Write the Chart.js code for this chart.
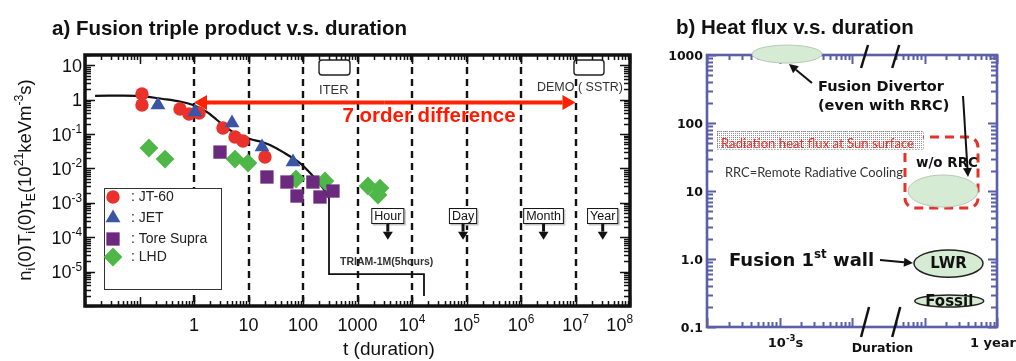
<!DOCTYPE html>
<html>
<head>
<meta charset="utf-8">
<script src="https://cdn.jsdelivr.net/npm/chart.js@4.4.1/dist/chart.umd.min.js"></script>
<style>
  html, body { margin: 0; padding: 0; background: #fff; }
  #wrap { position: relative; width: 1016px; height: 361px; overflow: hidden; }
  canvas { position: absolute; top: 0; }
  #chartA { left: 0; }
  #chartB { left: 640px; }
</style>
</head>
<body>
<div id="wrap">
  <canvas id="chartA" width="660" height="361"></canvas>
  <canvas id="chartB" width="376" height="361"></canvas>
</div>
<script>
// ---------- a) triple product vs duration ----------
const curveT = [0.0153, 0.094, 0.27, 0.553, 0.96, 1.73, 2.64, 4.03, 6.15, 10.7, 17.7, 24.8, 43, 88, 146, 233, 300];
const curveP = [1.3, 1.3, 1.05, 0.887, 0.701, 0.439, 0.257, 0.150, 0.100, 0.072, 0.059, 0.048, 0.030, 0.0144, 0.0065, 0.0027, 0.0014];
const triamT = [300, 300, 16600, 16600];
const triamP = [0.0014, 8.5e-6, 8.5e-6, 1.95e-6];

const jt60T = [0.111, 0.111, 0.553, 0.81, 1.24, 3.4, 5.65, 7.93, 20.1];
const jt60P = [1.47, 0.70, 0.537, 0.384, 0.41, 0.150, 0.082, 0.063, 0.0215];
const jetT = [0.218, 1.04, 4.98, 17.7, 65.6];
const jetP = [0.70, 0.44, 0.21, 0.042, 0.0154];
const toreT = [3.0, 21.8, 50.8, 77.6, 152, 205, 355];
const toreP = [0.030, 0.00565, 0.00404, 0.00158, 0.00404, 0.00148, 0.00221];
const lhdT = [0.149, 0.294, 5.65, 9.8, 74.4, 253, 1560, 2590, 2380];
const lhdP = [0.0394, 0.0188, 0.0188, 0.0144, 0.00494, 0.00432, 0.00309, 0.0027, 0.00169];

const seriesNames = ["JT-60", "JET", "Tore Supra", "LHD"];
const milestoneNames = ["Hour", "Day", "Month", "Year"];
const milestoneT = [3600, 86400, 2.592e6, 3.156e7];
const dashedDecades = [1, 10, 100, 1000, 1e4, 1e5, 1e6, 1e7];

const aXTicks = [1, 10, 100, 1000, 1e4, 1e5, 1e6, 1e7, 1e8];
const aXTickLabels = ["1", "10", "100", "1000", "10^{4}", "10^{5}", "10^{6}", "10^{7}", "10^{8}"];
const aYTicks = [10, 1, 0.1, 0.01, 1e-3, 1e-4, 1e-5];
const aYTickLabels = ["10", "1", "10^{-1}", "10^{-2}", "10^{-3}", "10^{-4}", "10^{-5}"];

// ---------- b) heat flux vs duration ----------
const bYTicks = [1000, 100, 10, 1, 0.1];
const bYTickLabels = ["1000", "100", "10", "1.0", "0.1"];
const bXLabels = ["10^{-3}s", "1 year"];
const bXLabelAt = [1e-3, 1];
// green regions: duration range and heat-flux range
const regionNames = ["Divertor", "w/o RRC", "LWR", "Fossil"];
const regionT0 = [4.18e-4, 0.0592, 0.0716, 0.0734];
const regionT1 = [3.85e-3, 0.547, 0.641, 0.656];
const regionQ0 = [760, 5.8, 0.54, 0.197];
const regionQ1 = [1400, 17.2, 1.36, 0.296];

const SANS = '"Liberation Sans", Arial, sans-serif';
const VERD = '"DejaVu Sans", Verdana, sans-serif';
const COLORS = { jt60: "#e8322b", jet: "#3b55a5", tore: "#6b2a7e", lhd: "#4fb748" };

function parseRich(s) {
  const out = [];
  const re = /(\^|_)\{([^}]*)\}|([^^_]+)/g;
  let m;
  while ((m = re.exec(s))) {
    if (m[3]) out.push([m[3], 0]);
    else out.push([m[2], m[1] === "^" ? 1 : -1]);
  }
  return out;
}

function richWidth(ctx, parts, size, fam, wt) {
  let w = 0;
  for (const [t, mode] of parts) {
    ctx.font = `${wt} ${mode ? size * 0.66 : size}px ${fam}`;
    w += ctx.measureText(t).width;
  }
  return w;
}

function drawRich(ctx, s, x, y, size, fam, wt, align) {
  const parts = parseRich(s);
  const w = richWidth(ctx, parts, size, fam, wt);
  let cx = align === "center" ? x - w / 2 : align === "right" ? x - w : x;
  ctx.textAlign = "left";
  ctx.textBaseline = "alphabetic";
  for (const [t, mode] of parts) {
    ctx.font = `${wt} ${mode ? size * 0.66 : size}px ${fam}`;
    const dy = mode === 1 ? -size * 0.42 : mode === -1 ? size * 0.22 : 0;
    ctx.fillText(t, cx, y + dy);
    cx += ctx.measureText(t).width;
  }
}

function logTicks(min, max) {
  const out = [];
  for (let d = Math.floor(Math.log10(min)); d <= Math.ceil(Math.log10(max)); d++) {
    for (let j = 1; j < 10; j++) {
      const v = j * Math.pow(10, d);
      if (v >= min * 0.999 && v <= max * 1.001) out.push({ v, major: j === 1 });
    }
  }
  return out;
}

function arrowLine(ctx, x0, y0, x1, y1, head, half) {
  const ang = Math.atan2(y1 - y0, x1 - x0);
  const bx = x1 - Math.cos(ang) * head, by = y1 - Math.sin(ang) * head;
  ctx.beginPath(); ctx.moveTo(x0, y0); ctx.lineTo(bx, by); ctx.stroke();
  ctx.beginPath(); ctx.moveTo(x1, y1);
  ctx.lineTo(bx + Math.sin(ang) * half, by - Math.cos(ang) * half);
  ctx.lineTo(bx - Math.sin(ang) * half, by + Math.cos(ang) * half);
  ctx.closePath(); ctx.fill();
}

const pts = (T, P) => T.map((t, i) => ({ x: t, y: P[i] }));
const markers = (label, T, P, style, color, r) => ({
  label, data: pts(T, P), showLine: false,
  pointStyle: style, pointRadius: r, pointBackgroundColor: color, pointBorderWidth: 0
});

const markerStyle = [["circle", 6.7, COLORS.jt60], ["triangle", 8.6, COLORS.jet], ["rect", 9.4, COLORS.tore], ["rectRot", 9.4, COLORS.lhd]];

const panelA = {
  id: "panelA",
  beforeDatasetsDraw(chart) {
    const { ctx, chartArea: a, scales: { x } } = chart;
    ctx.save();
    ctx.strokeStyle = "#111"; ctx.lineWidth = 2.4; ctx.setLineDash([7, 5]);
    for (const t of dashedDecades) {
      const px = Math.round(x.getPixelForValue(t));
      ctx.beginPath(); ctx.moveTo(px, a.top); ctx.lineTo(px, a.bottom); ctx.stroke();
    }
    ctx.restore();
  },
  afterDatasetsDraw(chart) {
    const { ctx, chartArea: a, scales: { x, y } } = chart;
    const X = e => x.getPixelForValue(Math.pow(10, e));
    const Y = f => y.getPixelForValue(Math.pow(10, f));
    ctx.save();

    // ITER / DEMO boxes
    ctx.strokeStyle = "#222"; ctx.lineWidth = 1.4; ctx.fillStyle = "#fff";
    for (const [e0, e1] of [[2.294, 2.862], [6.972, 7.523]]) {
      ctx.beginPath();
      ctx.roundRect(X(e0), Y(1.155), X(e1) - X(e0), Y(0.718) - Y(1.155), 3);
      ctx.fill(); ctx.stroke();
    }
    ctx.fillStyle = "#333"; ctx.font = `13px ${SANS}`; ctx.textBaseline = "middle"; ctx.textAlign = "left";
    ctx.fillText("ITER", X(2.294), Y(0.282));
    ctx.fillText("DEMO ( SSTR)", X(6.294), Y(0.369), 86);

    // 7 order difference arrow
    ctx.strokeStyle = "#ff2200"; ctx.fillStyle = "#ff2200"; ctx.lineWidth = 4;
    const ay = Y(-0.081), xm = (X(0) + X(7)) / 2;
    arrowLine(ctx, xm, ay, X(0), ay, 13, 7.5);
    arrowLine(ctx, xm, ay, X(7), ay, 13, 7.5);
    ctx.font = `bold 20.5px ${SANS}`; ctx.textAlign = "center"; ctx.textBaseline = "middle";
    ctx.fillStyle = "#ff1a00";
    ctx.fillText("7 order difference", X(4.312), Y(-0.474), 176);

    // milestone boxes
    milestoneNames.forEach((name, i) => {
      const cx = x.getPixelForValue(milestoneT[i]), cy = Y(-3.383), tip = Y(-4.07);
      ctx.font = `12.5px ${SANS}`;
      const w = ctx.measureText(name).width + 6, h = 16;
      ctx.fillStyle = "#c8c8c8"; ctx.fillRect(cx - w / 2 + 1.5, cy - h / 2 + 1.5, w, h);
      ctx.fillStyle = "#fff"; ctx.fillRect(cx - w / 2, cy - h / 2, w, h);
      ctx.strokeStyle = "#111"; ctx.lineWidth = 1;
      ctx.strokeRect(cx - w / 2 + 0.5, cy - h / 2 + 0.5, w - 1, h - 1);
      ctx.fillStyle = "#111"; ctx.textAlign = "center"; ctx.textBaseline = "middle";
      ctx.fillText(name, cx, cy + 0.5);
      ctx.lineWidth = 3;
      arrowLine(ctx, cx, cy + h / 2, cx, tip, 8, 5);
    });

    // TRIAM label
    ctx.fillStyle = "#333"; ctx.font = `bold 10.5px ${SANS}`; ctx.textAlign = "left"; ctx.textBaseline = "middle";
    ctx.fillText("TRIAM-1M(5hours)", X(2.679), Y(-4.72), 94);

    // legend
    const lx = a.left + 19, ly = 188, lw = 117, lh = 101;
    ctx.fillStyle = "#fff"; ctx.fillRect(lx, ly, lw, lh);
    ctx.strokeStyle = "#333"; ctx.lineWidth = 1; ctx.strokeRect(lx + 0.5, ly + 0.5, lw, lh);
    const rows = [197, 218, 239, 257];
    seriesNames.forEach((n, i) => {
      const [style, r, col] = markerStyle[i];
      ctx.fillStyle = col;
      Chart.helpers.drawPoint(ctx, { pointStyle: style, radius: r, rotation: 0, borderWidth: 0 }, lx + 9, rows[i]);
      ctx.fillStyle = "#222"; ctx.font = `14px ${SANS}`; ctx.textAlign = "left"; ctx.textBaseline = "middle";
      ctx.fillText(": " + n, lx + 27, rows[i]);
    });

    // frame and inward ticks
    ctx.strokeStyle = "#111"; ctx.lineWidth = 1.5;
    for (const t of logTicks(x.min, x.max)) {
      const px = Math.round(x.getPixelForValue(t.v)) + 0.5, len = t.major ? 9 : 5;
      ctx.beginPath();
      ctx.moveTo(px, a.bottom); ctx.lineTo(px, a.bottom - len);
      ctx.moveTo(px, a.top); ctx.lineTo(px, a.top + len);
      ctx.stroke();
    }
    for (const t of logTicks(1e-6, y.max)) {
      const py = Math.round(y.getPixelForValue(t.v)) + 0.5, len = t.major ? 10 : 6;
      ctx.beginPath();
      ctx.moveTo(a.left, py); ctx.lineTo(a.left + len, py);
      ctx.moveTo(a.right, py); ctx.lineTo(a.right - len, py);
      ctx.stroke();
    }
    ctx.lineWidth = 3.5;
    ctx.strokeRect(a.left, a.top, a.right - a.left, a.bottom - a.top);

    // tick labels
    ctx.fillStyle = "#111";
    aXTicks.forEach((v, i) => {
      const last = i === aXTicks.length - 1;
      drawRich(ctx, aXTickLabels[i], last ? a.right + 3 : x.getPixelForValue(v), a.bottom + 25, 18, SANS, "normal", last ? "right" : "center");
    });
    aYTicks.forEach((v, i) => drawRich(ctx, aYTickLabels[i], a.left - 3, y.getPixelForValue(v) + 6.5, 18, SANS, "normal", "right"));

    // axis titles
    drawRich(ctx, "t (duration)", 389, 355, 19, SANS, "normal", "center");
    ctx.save();
    ctx.translate(31, 180); ctx.rotate(-Math.PI / 2);
    drawRich(ctx, "n_{i}(0)T_{i}(0)τ_{E}(10^{21}keVm^{-3}s)", 0, 0, 18.5, SANS, "normal", "center");
    ctx.restore();

    ctx.fillStyle = "#111";
    ctx.font = `bold 20.5px ${SANS}`; ctx.textAlign = "left"; ctx.textBaseline = "alphabetic";
    ctx.fillText("a) Fusion triple product v.s. duration", 52, 35, 356);
    ctx.restore();
  }
};

new Chart(document.getElementById("chartA"), {
  type: "scatter",
  data: {
    datasets: [
      markers("JET", jetT, jetP, "triangle", COLORS.jet, 8.6),
      markers("JT-60", jt60T, jt60P, "circle", COLORS.jt60, 6.7),
      markers("Tore Supra", toreT, toreP, "rect", COLORS.tore, 9.4),
      markers("LHD", lhdT, lhdP, "rectRot", COLORS.lhd, 9.4),
      { label: "trend", data: pts(curveT, curveP), showLine: true, borderColor: "#111", borderWidth: 2.2, pointRadius: 0, tension: 0.3 },
      { label: "TRIAM-1M", data: pts(triamT, triamP), showLine: true, borderColor: "#111", borderWidth: 1.8, pointRadius: 0, tension: 0 }
    ]
  },
  options: {
    responsive: false, animation: false, devicePixelRatio: 1, events: [],
    layout: { padding: { top: 55, right: 30, left: 0, bottom: 0 } },
    plugins: { legend: { display: false }, tooltip: { enabled: false } },
    scales: {
      x: { type: "logarithmic", min: 0.01, max: 1e8, ticks: { display: false }, grid: { display: false }, border: { display: false },
           afterFit: s => { s.height = 55; } },
      y: { type: "logarithmic", min: 1e-6, max: 20, ticks: { display: false }, grid: { display: false }, border: { display: false },
           afterFit: s => { s.width = 85; } }
    }
  },
  plugins: [panelA]
});

// ---------- panel b ----------
const panelB = {
  id: "panelB",
  afterDraw(chart) {
    const { ctx, chartArea: a, scales: { x, y } } = chart;
    const X = e => x.getPixelForValue(Math.pow(10, e));
    const Y = f => y.getPixelForValue(Math.pow(10, f));
    const BLUE = "#5a5fa8";
    ctx.save();

    // frame and ticks
    ctx.strokeStyle = BLUE; ctx.lineWidth = 2;
    const gapL = X(-1.85), gapR = X(-1.4);
    for (const t of logTicks(x.min, x.max)) {
      const px = Math.round(x.getPixelForValue(t.v)) + 0.5, len = t.major ? 9 : 5;
      if (px > gapL && px < gapR) continue;
      ctx.beginPath();
      ctx.moveTo(px, a.bottom); ctx.lineTo(px, a.bottom - len);
      ctx.moveTo(px, a.top); ctx.lineTo(px, a.top + len);
      ctx.stroke();
    }
    for (const t of logTicks(y.min, y.max)) {
      const py = Math.round(y.getPixelForValue(t.v)) + 0.5, len = t.major ? 9 : 6;
      ctx.beginPath();
      ctx.moveTo(a.left, py); ctx.lineTo(a.left + len, py);
      ctx.moveTo(a.right, py); ctx.lineTo(a.right - len, py);
      ctx.stroke();
    }
    ctx.lineWidth = 2.6;
    ctx.strokeRect(a.left, a.top, a.right - a.left, a.bottom - a.top);

    // red dashed region (w/o remote radiative cooling)
    const rx0 = x.getPixelForValue(0.0538), rx1 = x.getPixelForValue(0.547);
    const ry0 = y.getPixelForValue(62), ry1 = y.getPixelForValue(5.6);
    ctx.strokeStyle = "#e63329"; ctx.lineWidth = 3; ctx.setLineDash([9, 6]);
    ctx.beginPath(); ctx.roundRect(rx0, ry0, rx1 - rx0, ry1 - ry0, 10); ctx.stroke();
    ctx.setLineDash([]);

    // sun surface band
    const pc = document.createElement("canvas"); pc.width = 2; pc.height = 2;
    const pcx = pc.getContext("2d"); pcx.fillStyle = "#fff"; pcx.fillRect(0, 0, 2, 2);
    pcx.fillStyle = "#8e8e8e"; pcx.fillRect(1, 1, 1, 1);
    const bx0 = X(-3.862), bx1 = X(-1.021), by0 = Y(1.882), by1 = Y(1.618);
    ctx.fillStyle = ctx.createPattern(pc, "repeat");
    ctx.fillRect(bx0, by0, bx1 - bx0, by1 - by0);
    ctx.strokeStyle = "#777"; ctx.lineWidth = 1; ctx.setLineDash([1, 2]);
    ctx.strokeRect(bx0 + 0.5, by0 + 0.5, bx1 - bx0, by1 - by0);
    ctx.setLineDash([]);
    ctx.font = `14px Lato, ${SANS}`;
    ctx.fillStyle = "#e8302a"; ctx.textAlign = "center"; ctx.textBaseline = "middle";
    ctx.fillText("Radiation heat flux at Sun surface", X(-2.476), Y(1.706), 193);

    // green regions
    regionNames.forEach((n, i) => {
      const x0 = x.getPixelForValue(regionT0[i]), x1 = x.getPixelForValue(regionT1[i]);
      const y0 = y.getPixelForValue(regionQ1[i]), y1 = y.getPixelForValue(regionQ0[i]);
      ctx.beginPath();
      ctx.ellipse((x0 + x1) / 2, (y0 + y1) / 2, (x1 - x0) / 2, (y1 - y0) / 2, 0, 0, Math.PI * 2);
      ctx.fillStyle = "#d6ebd3"; ctx.fill();
      const outlined = n === "LWR" || n === "Fossil";
      ctx.strokeStyle = outlined ? "#222" : "#b9c7b6"; ctx.lineWidth = outlined ? 1.5 : 1;
      ctx.stroke();
      if (outlined) {
        ctx.fillStyle = "#111"; ctx.font = `bold 15px ${VERD}`;
        ctx.textAlign = "center"; ctx.textBaseline = "middle";
        ctx.fillText(n, (x0 + x1) / 2, (y0 + y1) / 2 + 1, n === "LWR" ? 42 : 50);
      }
    });

    // texts
    ctx.fillStyle = "#111"; ctx.textAlign = "left"; ctx.textBaseline = "middle";
    ctx.font = `bold 14.5px ${VERD}`;
    ctx.fillText("Fusion Divertor", X(-2.469), Y(2.529), 133);
    ctx.fillText("(even with RRC)", X(-2.469), Y(2.25), 133);
    ctx.textAlign = "center"; ctx.font = `bold 14px ${VERD}`;
    ctx.fillText("w/o RRC", X(-0.69), Y(1.412), 62);
    ctx.fillStyle = "#333"; ctx.textAlign = "left"; ctx.font = `14px Lato, ${SANS}`;
    ctx.fillText("RRC=Remote Radiative Cooling", X(-3.752), Y(1.265), 178);
    ctx.fillStyle = "#111";
    drawRich(ctx, "Fusion 1^{st} wall", X(-3.697), Y(0) + 6.5, 18, VERD, "bold", "left");

    // arrows
    ctx.strokeStyle = "#111"; ctx.fillStyle = "#111"; ctx.lineWidth = 2;
    arrowLine(ctx, X(-2.552), Y(2.588), X(-2.869), Y(2.868), 9, 4.5);
    arrowLine(ctx, X(-0.469), Y(2.397), X(-0.4), Y(1.206), 9, 4.5);
    arrowLine(ctx, X(-1.614), Y(-0.015), X(-1.159), Y(-0.059), 9, 4.5);

    // axis break marks
    ctx.lineWidth = 2.5;
    for (const e of [-1.82, -1.39]) {
      const cx = X(e);
      ctx.beginPath(); ctx.moveTo(cx - 4, a.top + 13); ctx.lineTo(cx + 3, a.top - 10); ctx.stroke();
      ctx.beginPath(); ctx.moveTo(cx - 4, a.bottom + 10); ctx.lineTo(cx + 4, a.bottom - 20); ctx.stroke();
    }

    // tick labels
    ctx.fillStyle = "#111";
    bYTicks.forEach((v, i) => drawRich(ctx, bYTickLabels[i], a.left - 4, y.getPixelForValue(v) + 4.5, 12.5, VERD, "bold", "right"));
    bXLabels.forEach((s, i) => drawRich(ctx, s, x.getPixelForValue(bXLabelAt[i]) + (i === 0 ? 6 : -4), a.bottom + 19.5, 13, VERD, "bold", "center"));
    drawRich(ctx, "Duration", X(-1.58), a.bottom + 25, 12.5, VERD, "bold", "center");

    ctx.save();
    ctx.translate(670, (a.top + a.bottom) / 2); ctx.rotate(-Math.PI / 2);
    drawRich(ctx, "Heat Flux (MW/m^{2})", 0, 0, 12, VERD, "bold", "center");
    ctx.restore();

    ctx.font = `bold 20.5px ${SANS}`; ctx.textAlign = "left"; ctx.textBaseline = "alphabetic";
    ctx.fillText("b) Heat flux v.s. duration", 36, 33.5, 240);
    ctx.restore();
  }
};

new Chart(document.getElementById("chartB"), {
  type: "scatter",
  data: { datasets: [] },
  options: {
    responsive: false, animation: false, devicePixelRatio: 1, events: [],
    layout: { padding: { top: 55, right: 19, left: 0, bottom: 0 } },
    plugins: { legend: { display: false }, tooltip: { enabled: false } },
    scales: {
      x: { type: "logarithmic", min: 1e-4, max: 1, ticks: { display: false }, grid: { display: false }, border: { display: false },
           afterFit: s => { s.height = 34; } },
      y: { type: "logarithmic", min: 0.1, max: 1000, ticks: { display: false }, grid: { display: false }, border: { display: false },
           afterFit: s => { s.width = 67; } }
    }
  },
  plugins: [panelB]
});
</script>
</body>
</html>
